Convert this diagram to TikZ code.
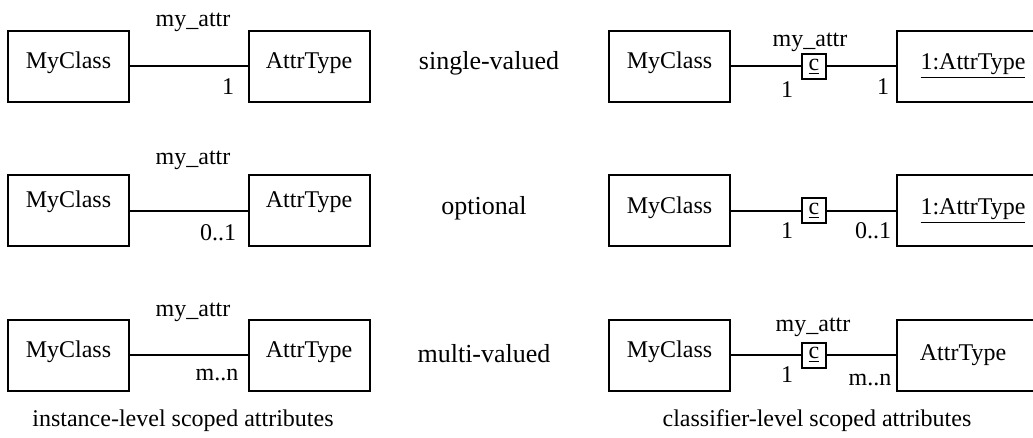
\documentclass[tikz,border=0pt]{standalone}
\usepackage{fontspec}
\setmainfont{Liberation Serif}
\begin{document}
\begin{tikzpicture}[x=0.5pt,y=-0.5pt,
    font=\fontsize{12}{14}\selectfont,
    cls/.style={draw,line width=1pt,minimum width=60.5pt,minimum height=35.5pt,
      inner sep=0pt,text height=8.2pt,text depth=#1},
    cls/.default=6.1pt,
    obj/.style={draw,line width=1pt,minimum width=76pt,minimum height=35.5pt,inner sep=0pt},
    cbox/.style={draw,line width=1pt,minimum width=12pt,minimum height=12.5pt,inner sep=0pt},
    lbl/.style={inner sep=0pt},
    kind/.style={inner sep=0pt,font=\fontsize{13}{15}\selectfont}]
  \useasboundingbox (0,0) rectangle (1033,438);
  \clip (0,0) rectangle (1033,438);
  % instance-level
  \node[cls] (mc1) at (68.5,66.5) {MyClass};
  \node[cls] (at1) at (309,66.5) {AttrType};
  \node[cls=12.1pt] (mc2) at (68.5,211) {MyClass};
  \node[cls=12.1pt] (at2) at (309,211) {AttrType};
  \node[cls] (mc3) at (68.5,355) {MyClass};
  \node[cls] (at3) at (309,355) {AttrType};
  \begin{scope}[line width=1pt]
    \draw (mc1) to (at1);
    \draw (mc2) to (at2);
    \draw[line width=0.7pt] (mc3) to (at3);
  \end{scope}
  \node[lbl] (rn1) at (193,22) {my\_attr};
  \node[lbl] (rn2) at (193,160) {my\_attr};
  \node[lbl] (rn3) at (193,312) {my\_attr};
  \node[lbl] (mul1) at (228,87) {1};
  \node[lbl] (mul2) at (218,233) {0..1};
  \node[lbl] (mul3) at (217,375) {m..n};
  % kinds
  \node[kind] (k1) at (489,63) {single-valued};
  \node[kind] (k2) at (484,208) {optional};
  \node[kind] (k3) at (484,354) {multi-valued};
  % classifier-level
  \node[cls] (mcr1) at (669.5,66.5) {MyClass};
  \node[obj] (atr1) at (973,66.5) {\underline{1:AttrType}};
  \node[cls] (mcr2) at (669.5,211) {MyClass};
  \node[obj] (atr2) at (973,211) {\underline{1:AttrType}};
  \node[cls] (mcr3) at (669.5,355) {MyClass};
  \node[obj] (atr3) at (973,355) {AttrType\hspace*{10pt}};
  \node[cbox] (cq1) at (814,66.5) {\underline{c}};
  \node[cbox] (cq2) at (814,211) {\underline{c}};
  \node[cbox] (cq3) at (814,355) {\underline{c}};
  \begin{scope}[line width=1pt]
    \draw (mcr1) to (cq1);
    \draw (cq1) to (atr1);
    \draw (mcr2) to (cq2);
    \draw (cq2) to (atr2);
    \draw (mcr3) to (cq3);
    \draw (cq3) to (atr3);
  \end{scope}
  \node[lbl] (rnr1) at (810,42) {my\_attr};
  \node[lbl] (rnr3) at (813,327) {my\_attr};
  \node[lbl] (ml1) at (787,90) {1};
  \node[lbl] (mr1) at (883,87) {1};
  \node[lbl] (ml2) at (787,231) {1};
  \node[lbl] (mr2) at (873,231) {0..1};
  \node[lbl] (ml3) at (787,375) {1};
  \node[lbl] (mr3) at (870,380) {m..n};
  % captions
  \node[lbl] (capl) at (183,421) {instance-level scoped attributes};
  \node[lbl] (capr) at (817,421) {classifier-level scoped attributes};
\end{tikzpicture}
\end{document}
